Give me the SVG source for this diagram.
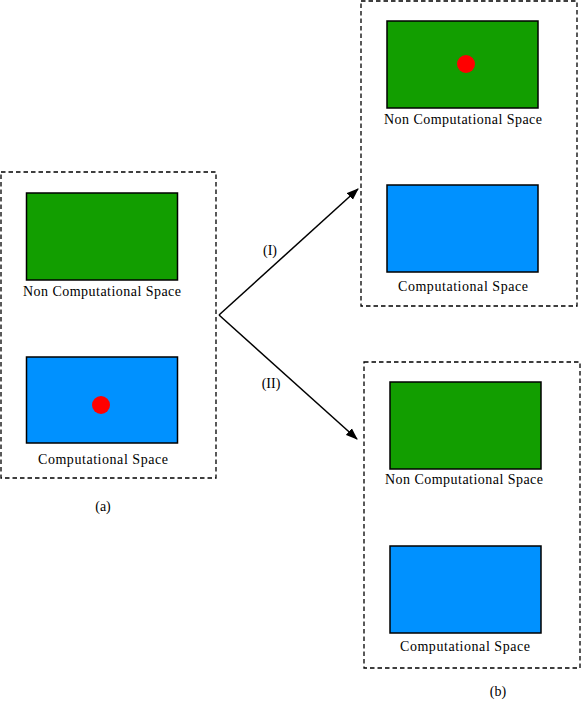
<svg xmlns="http://www.w3.org/2000/svg" width="581" height="701" viewBox="0 0 581 701">
<style>
.frame{fill:none;stroke:#000;stroke-width:1.3;stroke-dasharray:4.5 3}
.ncs{fill:#129e00;stroke:#000;stroke-width:1.5}
.cs{fill:#0091ff;stroke:#000;stroke-width:1.5}
.dot{fill:#ff0000}
text{font-family:"Liberation Serif","Times New Roman",serif;font-size:14px;fill:#000;text-anchor:middle}
.conn{fill:none;stroke:#000;stroke-width:1.5}
</style>
<defs>
<marker id="ah" viewBox="0 0 12 10" refX="11" refY="5" markerWidth="12" markerHeight="10" markerUnits="userSpaceOnUse" orient="auto">
<path d="M0,0.5 L12,5 L0,9.5 z" fill="#000"/>
</marker>
</defs>
<g id="panel-a">
<rect class="frame" x="1" y="172" width="215" height="306"/>
<rect class="ncs" x="26.5" y="193" width="151" height="87"/>
<text x="102" y="296" textLength="158" lengthAdjust="spacing">Non Computational Space</text>
<rect class="cs" x="26.5" y="357" width="151" height="86"/>
<circle class="dot" cx="101" cy="405" r="9"/>
<text x="103" y="464" textLength="130" lengthAdjust="spacing">Computational Space</text>
<text x="103" y="511">(a)</text>
</g>
<g id="panel-b1">
<rect class="frame" x="361" y="1" width="216" height="305"/>
<rect class="ncs" x="387" y="21" width="151" height="87"/>
<circle class="dot" cx="466" cy="64" r="9"/>
<text x="463" y="124" textLength="158" lengthAdjust="spacing">Non Computational Space</text>
<rect class="cs" x="387" y="185" width="151" height="87"/>
<text x="463" y="291" textLength="130" lengthAdjust="spacing">Computational Space</text>
</g>
<g id="panel-b2">
<rect class="frame" x="364" y="362" width="216" height="306"/>
<rect class="ncs" x="390" y="382" width="151" height="87"/>
<text x="464" y="484" textLength="158" lengthAdjust="spacing">Non Computational Space</text>
<rect class="cs" x="390" y="546" width="151" height="87"/>
<text x="465" y="651" textLength="130" lengthAdjust="spacing">Computational Space</text>
<text x="498" y="696">(b)</text>
</g>
<g id="connectors">
<line class="conn" x1="219" y1="315" x2="358" y2="189" marker-end="url(#ah)"/>
<line class="conn" x1="219" y1="315" x2="357" y2="439" marker-end="url(#ah)"/>
<text x="270" y="255">(I)</text>
<text x="271" y="388">(II)</text>
</g>
</svg>
